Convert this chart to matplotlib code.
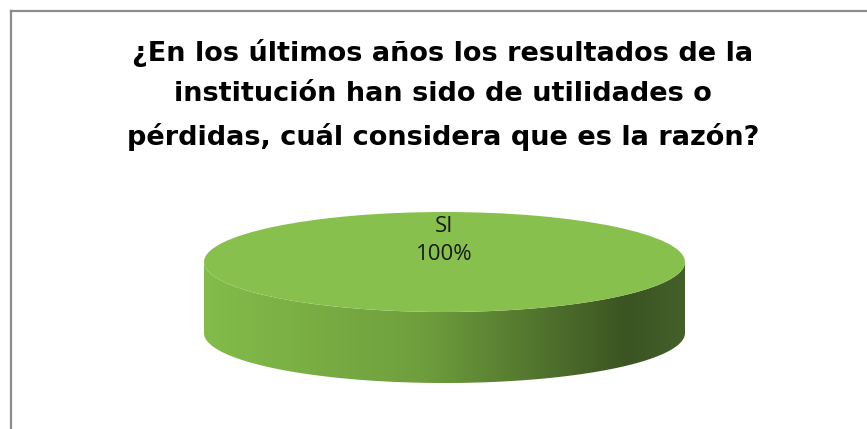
import numpy as np
import matplotlib
matplotlib.use("Agg")
import matplotlib.pyplot as plt
from matplotlib.colors import LinearSegmentedColormap
from matplotlib.patches import Polygon
from matplotlib.lines import Line2D

title = "¿En los últimos años los resultados de la\ninstitución han sido de utilidades o\npérdidas, cuál considera que es la razón?"
labels = ["SI"]
values = [100]

top_color = "#88c04e"
side_cmap = LinearSegmentedColormap.from_list(
    "side", [(0.0, "#83bc4a"), (0.45, "#6f9f3d"), (0.88, "#3b5422"), (1.0, "#44602a")])

W, H = 867, 429
fig = plt.figure(figsize=(W / 100, H / 100), dpi=100)

# chart border (left and top only visible)
fig.add_artist(Line2D([11 / W, 11 / W], [0, 1 - 11 / H], color="#8c8c8c", lw=1.6))
fig.add_artist(Line2D([11 / W, 1], [1 - 11 / H, 1 - 11 / H], color="#8c8c8c", lw=1.6))

fig.text(443 / W, 1 - 95 / H, title, ha="center", va="center", fontsize=19.5,
         fontweight="bold", family="DejaVu Sans", linespacing=1.7)

# pie axes: x -1..1 over 481 px, y scaled so radius 1 = 50 px
left, right, top, bottom = 204, 685, 212, 386
ax = fig.add_axes([left / W, 1 - bottom / H, (right - left) / W, (bottom - top) / H])
depth = 1.42
ry = 50.0
y_range = (bottom - top) / ry

t = np.linspace(np.pi, 2 * np.pi, 200)
side_pts = np.concatenate([
    np.column_stack([np.cos(t), np.sin(t)]),
    np.column_stack([np.cos(t[::-1]), np.sin(t[::-1]) - depth]),
])
side = Polygon(side_pts, closed=True, facecolor="none", edgecolor="none")
ax.add_patch(side)
grad = np.linspace(0, 1, 256).reshape(1, -1)
img = ax.imshow(grad, cmap=side_cmap, aspect="auto", extent=(-1, 1, -1 - depth, 0),
                interpolation="bicubic", zorder=1)
img.set_clip_path(side)

wedges, texts = ax.pie(values, colors=[top_color], startangle=90, radius=1,
                       wedgeprops=dict(linewidth=0, zorder=2))
ax.set_aspect("auto")
ax.set_xlim(-1, 1)
ax.set_ylim(1 - y_range, 1)
ax.axis("off")

ax.text(0, 0.43, f"{labels[0]}\n{values[0]}%", ha="center", va="center",
        fontsize=16, family="Open Sans", color="#1a1a1a", linespacing=1.4, zorder=3)

fig.savefig("out.png", dpi=100)
